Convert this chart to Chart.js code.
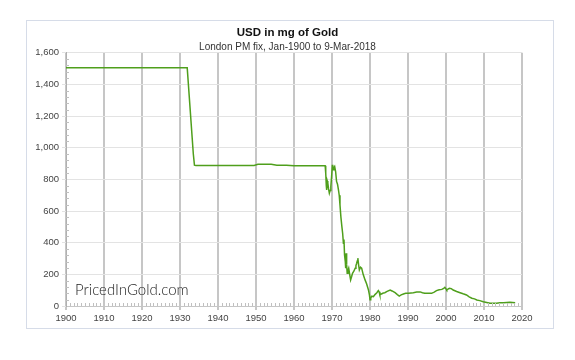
<!DOCTYPE html>
<html>
<head>
<meta charset="utf-8">
<script src="https://cdn.jsdelivr.net/npm/chart.js@4"></script>
<style>
  html, body { margin: 0; padding: 0; background: #fff; }
  #wrap { position: relative; width: 575px; height: 360px; }
</style>
</head>
<body>
<div id="wrap"><canvas id="goldChart" width="575" height="360"></canvas></div>
<script>
const titleText = 'USD in mg of Gold';
const subtitleText = 'London PM fix, Jan-1900 to 9-Mar-2018';
const watermarkText = 'PricedInGold.com';

const xTicks = [1900, 1910, 1920, 1930, 1940, 1950, 1960, 1970, 1980, 1990, 2000, 2010, 2020];
const yTicks = [0, 200, 400, 600, 800, 1000, 1200, 1400, 1600];

// year (decimal) and value in mg of gold per USD
const years = [
  1900, 1931.9, 1933.5, 1933.8, 1934.2, 1940, 1945, 1949.5, 1950.5, 1952, 1954, 1955.5, 1958, 1960, 1962, 1965, 1967.5,
  1968.2, 1968.35, 1968.5, 1968.6, 1968.75, 1968.9, 1969.1, 1969.3, 1969.5, 1969.7, 1969.9,
  1970.1, 1970.2, 1970.3, 1970.5, 1970.7, 1970.95, 1971.2, 1971.45, 1971.7, 1971.9,
  1972.1, 1972.35, 1972.6, 1972.8, 1973.0, 1973.15, 1973.3, 1973.5, 1973.6, 1973.7, 1973.85,
  1974.0, 1974.2, 1974.4, 1974.65, 1974.9, 1975.15, 1975.4, 1975.75, 1976.1, 1976.3, 1976.5, 1976.65, 1976.8,
  1977.0, 1977.2, 1977.5, 1977.8, 1978.2, 1978.7, 1979.1, 1979.6, 1979.85,
  1980.0, 1980.2, 1980.5, 1980.9, 1981.3, 1981.8, 1982.2, 1982.4, 1982.6, 1983.0, 1983.5, 1983.9, 1984.5,
  1985.3, 1985.8, 1986.6, 1987.2, 1987.7, 1988.2, 1988.8, 1989.4,
  1990.1, 1990.8, 1991.4, 1992.3, 1993.2, 1993.8, 1994.4, 1994.9, 1995.6, 1996.2, 1996.9, 1997.5, 1998.2, 1998.9, 1999.4, 1999.7,
  2000.0, 2000.2, 2000.6, 2000.9, 2001.4, 2001.9, 2002.8, 2003.7, 2004.5, 2005.4, 2006.1, 2006.8, 2007.5, 2008.1, 2008.9, 2009.8,
  2010.7, 2011.6, 2012.4, 2013.3, 2014.2, 2015.1, 2016.0, 2016.8, 2017.5, 2018.2
];
const mgPerUsd = [
  1505, 1505, 962, 890, 888, 888, 888, 888, 895, 896, 895, 890, 890, 886, 887, 887, 886,
  886, 840, 760, 734, 790, 777, 740, 713, 730, 755, 820,
  892, 870, 861, 875, 882, 850, 787, 770, 734, 700,
  639, 560, 502, 460, 397, 420, 323, 280, 239, 333, 260,
  207, 225, 239, 200, 165, 185, 207, 220, 239, 255, 270, 285, 302,
  260, 228, 245, 239, 200, 165, 140, 101, 70,
  40, 52, 62, 59, 72, 84, 97, 90, 70, 76, 82, 84, 92,
  101, 95, 84, 72, 63, 70, 76, 80,
  80, 82, 84, 88, 89, 84, 81, 80, 80, 80, 88, 97, 103, 105, 112, 118,
  108, 101, 108, 112, 110, 101, 92, 84, 77, 70, 58, 49, 45, 38, 34, 27,
  22, 17, 18, 17, 20, 21, 22, 23, 22, 21
];

const points = years.map((yr, i) => ({ x: yr, y: mgPerUsd[i] }));

const tickFont = { family: '"Liberation Sans", Arial, sans-serif', size: 9.5 };

// white card with a thin border behind the chart
const cardPlugin = {
  id: 'card',
  beforeDraw(chart) {
    const ctx = chart.ctx;
    ctx.save();
    ctx.fillStyle = '#fff';
    ctx.fillRect(0, 0, chart.width, chart.height);
    ctx.strokeStyle = '#d6dce8';
    ctx.lineWidth = 1;
    ctx.strokeRect(26.5, 20.5, 527, 308);
    ctx.restore();
  }
};

// small minor ticks on both axes + watermark
const extrasPlugin = {
  id: 'extras',
  afterDraw(chart) {
    const ctx = chart.ctx;
    const xs = chart.scales.x;
    const ys = chart.scales.y;
    const area = chart.chartArea;
    ctx.save();
    ctx.strokeStyle = '#c0c0c0';
    ctx.lineWidth = 1;
    ctx.beginPath();
    for (let yr = 1900; yr <= 2020; yr++) {
      if (yr % 10 === 0) continue;
      const px = Math.round(xs.getPixelForValue(yr)) + 0.5;
      ctx.moveTo(px, area.bottom);
      ctx.lineTo(px, area.bottom - 3);
    }
    for (let v = 0; v <= 1600; v += 40) {
      if (v % 200 === 0) continue;
      const py = Math.round(ys.getPixelForValue(v)) + 0.5;
      ctx.moveTo(area.left, py);
      ctx.lineTo(area.left + 3, py);
    }
    ctx.stroke();

    ctx.fillStyle = '#222';
    ctx.font = '300 15px Lato, "DejaVu Sans", sans-serif';
    ctx.textBaseline = 'alphabetic';
    ctx.fillText(watermarkText, 75, 295);
    ctx.restore();
  }
};

new Chart(document.getElementById('goldChart').getContext('2d'), {
  type: 'line',
  data: {
    datasets: [{
      label: 'USD in mg of Gold',
      data: points,
      borderColor: '#4f9f1c',
      borderWidth: 1.5,
      pointRadius: 0,
      fill: false,
      tension: 0
    }]
  },
  options: {
    responsive: false,
    animation: false,
    layout: { padding: { left: 26, right: 26, top: 0, bottom: 0 } },
    plugins: {
      legend: { display: false },
      tooltip: { enabled: false },
      title: {
        display: true,
        text: titleText,
        color: '#111',
        font: { family: '"Liberation Sans", Arial, sans-serif', size: 11.5, weight: 'bold' },
        padding: { top: 26, bottom: 1 }
      },
      subtitle: {
        display: true,
        text: subtitleText,
        color: '#333',
        font: { family: '"Liberation Sans", Arial, sans-serif', size: 10 },
        padding: { top: 0, bottom: 0 }
      }
    },
    scales: {
      x: {
        type: 'linear',
        min: 1900,
        max: 2020,
        afterBuildTicks(scale) { scale.ticks = xTicks.map(v => ({ value: v })); },
        afterFit(scale) { scale.height = 54; },
        ticks: {
          color: '#444',
          font: tickFont,
          maxRotation: 0,
          autoSkip: false,
          padding: 3,
          callback: v => String(v)
        },
        grid: { color: '#c6c6c6', lineWidth: 2, tickLength: 4 },
        border: { color: '#c6c6c6' }
      },
      y: {
        min: 0,
        max: 1600,
        afterBuildTicks(scale) { scale.ticks = yTicks.map(v => ({ value: v })); },
        afterFit(scale) { scale.width = 40; },
        ticks: {
          color: '#444',
          font: tickFont,
          padding: 3,
          callback: v => v.toLocaleString('en-US')
        },
        grid: { color: '#e3e3e3', lineWidth: 1, tickLength: 4 },
        border: { color: '#b0b0b0' }
      },
      // empty spacer on the right so the plot ends inside the card
      spacer: {
        type: 'linear',
        position: 'right',
        afterFit(scale) { scale.width = 27; },
        ticks: { display: false },
        grid: { display: false },
        border: { display: false }
      }
    }
  },
  plugins: [cardPlugin, extrasPlugin]
});
</script>
</body>
</html>
